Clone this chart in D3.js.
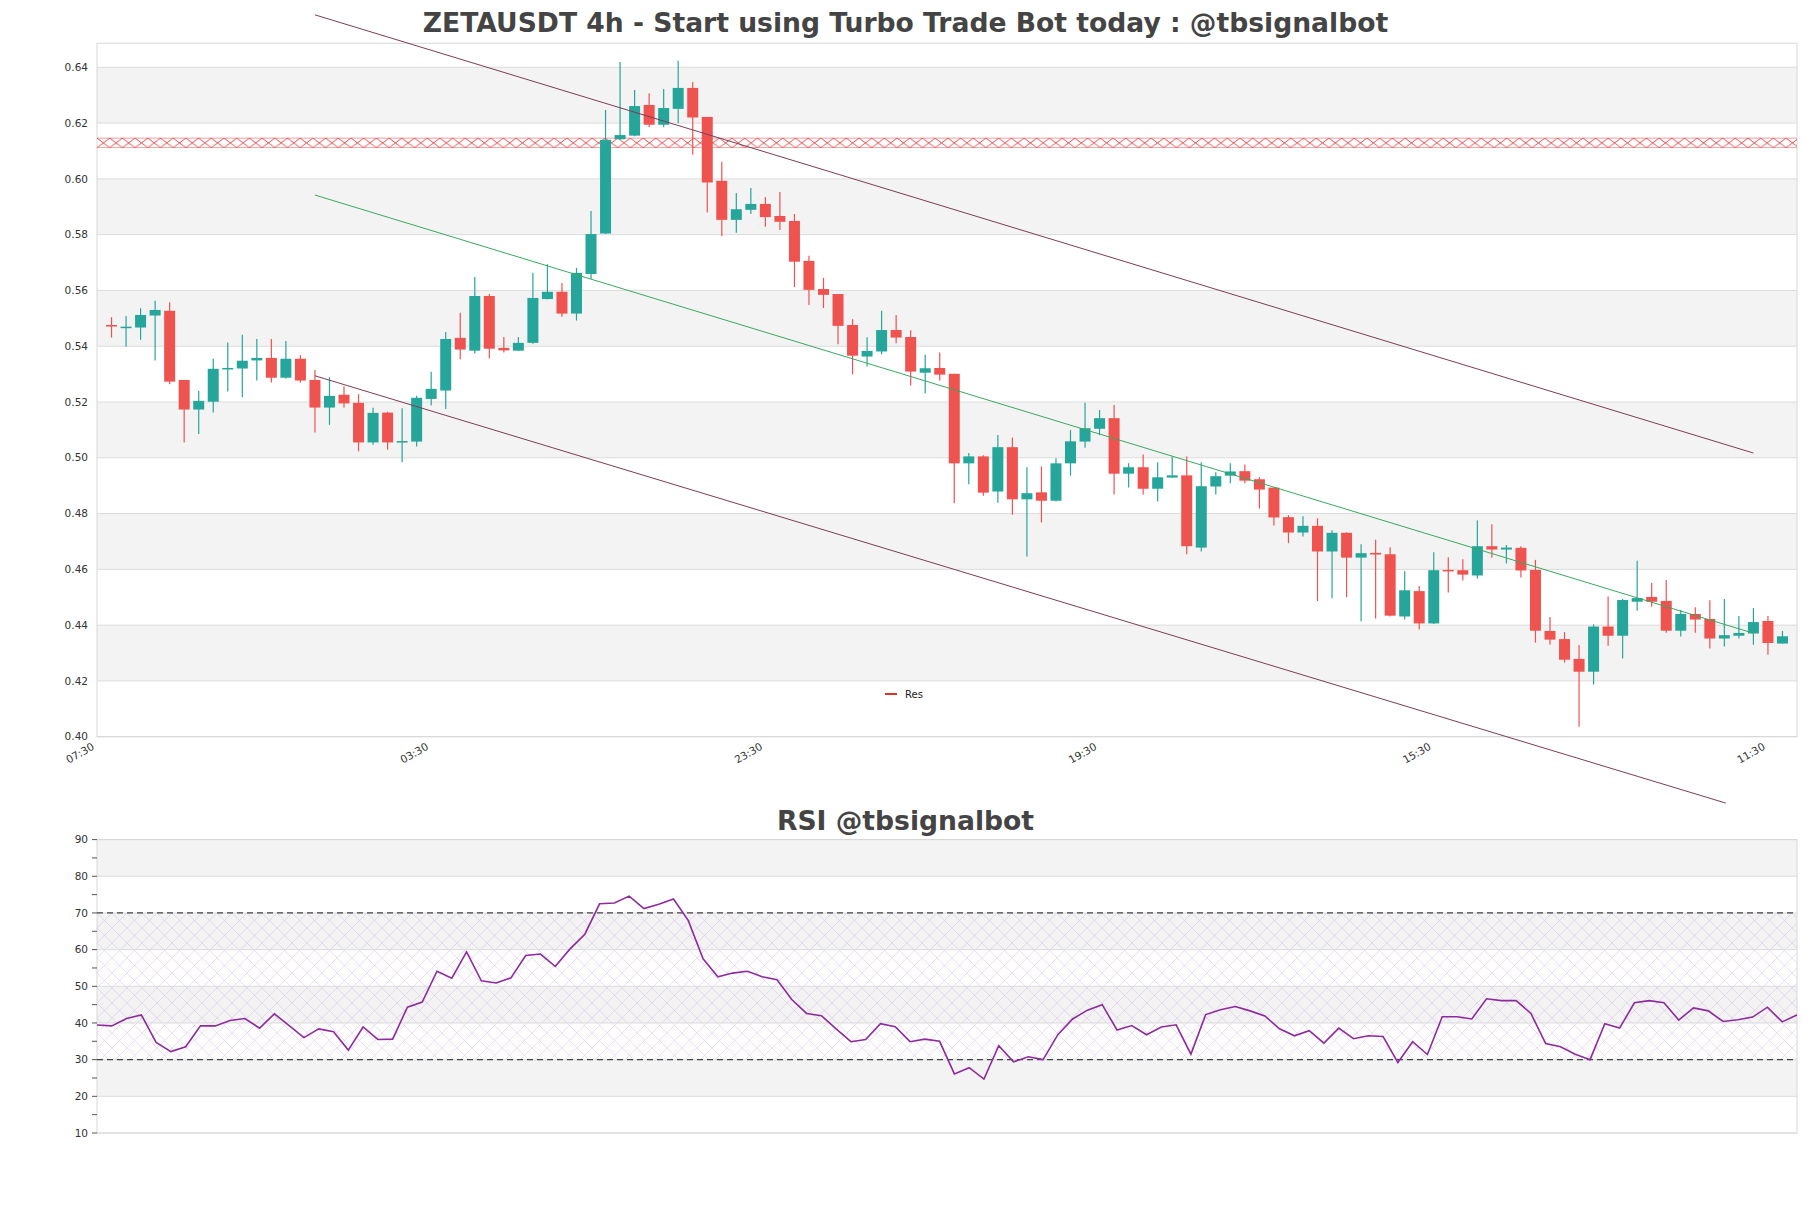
<!DOCTYPE html>
<html><head><meta charset="utf-8">
<script src="https://cdn.jsdelivr.net/npm/d3@7"></script>
<style>body{margin:0;background:#fff}svg{display:block}text{font-family:"DejaVu Sans",sans-serif}</style>
</head><body><svg id="c" width="1811" height="1208"></svg>
<script>
const opens=[0.5476,0.5466,0.5467,0.5510,0.5527,0.5279,0.5173,0.5201,0.5317,0.5320,0.5349,0.5358,0.5287,0.5355,0.5279,0.5180,0.5226,0.5197,0.5055,0.5162,
0.5055,0.5058,0.5211,0.5241,0.5430,0.5384,0.5580,0.5394,0.5384,0.5412,0.5569,0.5595,0.5517,0.5659,0.5804,0.6142,0.6155,0.6265,0.6194,0.6251,
0.6326,0.6222,0.5993,0.5853,0.5889,0.5910,0.5867,0.5849,0.5706,0.5605,0.5587,0.5476,0.5363,0.5381,0.5458,0.5433,0.5305,0.5322,0.5301,0.4980,
0.5005,0.4879,0.5038,0.4851,0.4876,0.4846,0.4980,0.5058,0.5104,0.5142,0.4943,0.4966,0.4889,0.4929,0.4937,0.4678,0.4897,0.4936,0.4952,0.4923,
0.4893,0.4787,0.4732,0.4756,0.4664,0.4731,0.4642,0.4659,0.4654,0.4431,0.4522,0.4406,0.4598,0.4597,0.4578,0.4683,0.4671,0.4677,0.4598,0.4379,
0.4350,0.4279,0.4233,0.4395,0.4362,0.4484,0.4501,0.4487,0.4380,0.4440,0.4422,0.4352,0.4362,0.4370,0.4415,0.4334];
const highs=[0.5504,0.5508,0.5536,0.5563,0.5558,0.5279,0.5240,0.5355,0.5413,0.5441,0.5426,0.5426,0.5419,0.5368,0.5315,0.5289,0.5256,0.5228,0.5179,0.5165,
0.5178,0.5222,0.5308,0.5451,0.5520,0.5648,0.5587,0.5433,0.5433,0.5663,0.5694,0.5627,0.5681,0.5885,0.6247,0.6419,0.6319,0.6307,0.6322,0.6423,
0.6347,0.6222,0.6061,0.5949,0.5967,0.5935,0.5953,0.5874,0.5724,0.5645,0.5587,0.5497,0.5432,0.5527,0.5512,0.5457,0.5369,0.5377,0.5301,0.5017,
0.5009,0.5082,0.5073,0.4966,0.4969,0.4998,0.5099,0.5197,0.5171,0.5189,0.4980,0.5012,0.4984,0.5005,0.5005,0.4984,0.4948,0.4980,0.4976,0.4930,
0.4893,0.4794,0.4790,0.4783,0.4740,0.4733,0.4690,0.4706,0.4679,0.4593,0.4540,0.4661,0.4643,0.4636,0.4775,0.4762,0.4687,0.4683,0.4634,0.4429,
0.4375,0.4329,0.4403,0.4503,0.4494,0.4631,0.4551,0.4562,0.4454,0.4464,0.4489,0.4494,0.4433,0.4461,0.4433,0.4379];
const lows=[0.5431,0.5398,0.5423,0.5349,0.5264,0.5055,0.5085,0.5162,0.5238,0.5217,0.5277,0.5270,0.5283,0.5270,0.5091,0.5118,0.5180,0.5023,0.5047,0.5029,
0.4984,0.5040,0.5187,0.5175,0.5353,0.5374,0.5356,0.5377,0.5383,0.5409,0.5568,0.5506,0.5492,0.5641,0.5802,0.6140,0.6153,0.6185,0.6185,0.6199,
0.6086,0.5879,0.5795,0.5807,0.5874,0.5828,0.5817,0.5612,0.5548,0.5537,0.5407,0.5299,0.5327,0.5371,0.5411,0.5259,0.5231,0.5277,0.4837,0.4905,
0.4864,0.4839,0.4796,0.4646,0.4768,0.4843,0.4936,0.5036,0.5081,0.4868,0.4893,0.4868,0.4843,0.4928,0.4654,0.4664,0.4868,0.4909,0.4909,0.4818,
0.4757,0.4694,0.4718,0.4486,0.4496,0.4500,0.4414,0.4424,0.4431,0.4420,0.4384,0.4404,0.4517,0.4560,0.4567,0.4642,0.4621,0.4571,0.4337,0.4330,
0.4266,0.4036,0.4187,0.4326,0.4280,0.4452,0.4466,0.4373,0.4359,0.4373,0.4316,0.4323,0.4352,0.4330,0.4294,0.4334];
const closes=[0.5472,0.5470,0.5512,0.5530,0.5273,0.5173,0.5204,0.5319,0.5322,0.5348,0.5358,0.5287,0.5355,0.5277,0.5180,0.5222,0.5195,0.5055,0.5161,0.5055,
0.5060,0.5215,0.5247,0.5426,0.5388,0.5580,0.5391,0.5385,0.5412,0.5573,0.5595,0.5517,0.5663,0.5802,0.6140,0.6157,0.6261,0.6194,0.6254,0.6326,
0.6220,0.5987,0.5853,0.5891,0.5910,0.5863,0.5846,0.5703,0.5602,0.5584,0.5473,0.5366,0.5383,0.5458,0.5431,0.5309,0.5321,0.5298,0.4980,0.5005,
0.4875,0.5038,0.4851,0.4873,0.4846,0.4980,0.5059,0.5106,0.5142,0.4943,0.4966,0.4889,0.4930,0.4937,0.4683,0.4898,0.4934,0.4951,0.4918,0.4886,
0.4786,0.4732,0.4756,0.4664,0.4731,0.4642,0.4658,0.4653,0.4434,0.4525,0.4406,0.4597,0.4595,0.4581,0.4683,0.4671,0.4678,0.4596,0.4380,0.4348,
0.4276,0.4233,0.4395,0.4362,0.4490,0.4497,0.4484,0.4380,0.4440,0.4420,0.4352,0.4364,0.4372,0.4411,0.4336,0.4360];
const rsi=[39.45,39.2,41.2,42.2,34.7,32.2,33.5,39.2,39.2,40.7,
41.2,38.6,42.5,39.3,36.0,38.4,37.6,32.6,38.9,35.5,
35.6,44.3,45.7,54.1,52.2,59.4,51.5,50.9,52.3,58.4,
58.8,55.4,60.2,64.2,72.5,72.7,74.6,71.2,72.4,73.8,
67.9,57.5,52.6,53.6,54.1,52.6,51.8,46.4,42.6,42.0,
38.4,34.9,35.5,39.8,39.0,34.9,35.6,35.0,26.1,27.8,
24.7,33.8,29.4,30.8,30.0,36.8,41.1,43.5,45.0,38.1,
39.3,36.8,38.9,39.5,31.5,42.3,43.6,44.5,43.3,41.9,
38.4,36.5,37.9,34.5,38.6,35.7,36.5,36.3,29.2,34.9,
31.4,41.7,41.7,41.1,46.6,46.1,46.1,42.6,34.4,33.5,
31.5,30.0,39.8,38.6,45.5,46.1,45.5,40.8,44.1,43.3,
40.4,40.9,41.6,44.3,40.3,42.2];
const xTickIdx=[-1,22,45,68,91,114];
const xTickLabels=["07:30","03:30","23:30","19:30","15:30","11:30"];
const priceTicks=[0.40,0.42,0.44,0.46,0.48,0.50,0.52,0.54,0.56,0.58,0.60,0.62,0.64];
const priceBands=[[0.42,0.44],[0.46,0.48],[0.50,0.52],[0.54,0.56],[0.58,0.60],[0.62,0.64]];
const rsiTicks=[10,20,30,40,50,60,70,80,90];
const rsiMinorTicks=[10,15,20,25,30,35,40,45,50,55,60,65,70,75,80,85,90];
const rsiBands=[[20,30],[40,50],[60,70],[80,90]];
const rsiLevels=[30,70];
const resZone=[0.6112,0.6146];
const upperLine=[[14,0.6588],[113,0.5017]];
const lowerLine=[[14,0.5294],[111.1,0.3762]];
const midLine=[[14,0.5942],[113,0.4371]];
const title="ZETAUSDT 4h - Start using Turbo Trade Bot today : @tbsignalbot";
const rsiTitle="RSI @tbsignalbot";

const svg=d3.select("#c");
const L=97,R=1797,T=43.3,B=736.7;
const RT=839.6,RB=1133;
const x=d3.scaleLinear().domain([-1,116]).range([L,R]);
const y=d3.scaleLinear().domain([0.40,0.6486]).range([B,T]);
const xr=d3.scaleLinear().domain([0,115]).range([L,R]);
const yr=d3.scaleLinear().domain([10,90]).range([RB,RT]);

const defs=svg.append("defs");
const resH=y(resZone[0])-y(resZone[1]);
const pat=defs.append("pattern").attr("id","resHatch").attr("patternUnits","userSpaceOnUse")
 .attr("width",12.7).attr("height",resH).attr("y",y(resZone[1])).attr("x",L);
pat.append("path").attr("d",`M0,0L12.7,${resH}M0,${resH}L12.7,0`).attr("stroke","#e23b3b").attr("stroke-width",0.9).attr("fill","none");
const pat2=defs.append("pattern").attr("id","rsiHatch").attr("patternUnits","userSpaceOnUse")
 .attr("width",15).attr("height",15).attr("x",L).attr("y",yr(70));
pat2.append("path").attr("d","M0,0L15,15M0,15L15,0").attr("stroke","#c6a6dc").attr("stroke-width",0.6).attr("fill","none").attr("opacity",0.6);

svg.append("rect").attr("width",1811).attr("height",1208).attr("fill","#fff");

// main panel
const g=svg.append("g");
g.selectAll("rect.band").data(priceBands).join("rect").attr("x",L).attr("width",R-L)
 .attr("y",d=>y(d[1])).attr("height",d=>y(d[0])-y(d[1])).attr("fill","#f3f3f3");
g.selectAll("line.grid").data(priceTicks).join("line").attr("x1",L).attr("x2",R)
 .attr("y1",d=>y(d)).attr("y2",d=>y(d)).attr("stroke","#dcdcdc").attr("stroke-width",1);
g.append("rect").attr("x",L).attr("y",T).attr("width",R-L).attr("height",B-T).attr("fill","none").attr("stroke","#d8d8d8");
g.selectAll("text.yt").data(priceTicks).join("text").attr("x",L-9).attr("y",d=>y(d)).attr("dy","0.35em")
 .attr("text-anchor","end").attr("font-size",10.5).attr("fill","#333").text(d=>d.toFixed(2));
g.selectAll("text.xt").data(xTickIdx).join("text")
 .attr("transform",(d,i)=>`translate(${x(d)-2},${B+12}) rotate(-30)`).attr("text-anchor","end")
 .attr("font-size",10.5).attr("fill","#333").text((d,i)=>xTickLabels[i]);

// resistance zone
g.append("rect").attr("x",L).attr("width",R-L).attr("y",y(resZone[1])).attr("height",resH)
 .attr("fill","url(#resHatch)");
g.selectAll("line.resEdge").data(resZone).join("line").attr("x1",L).attr("x2",R)
 .attr("y1",d=>y(d)).attr("y2",d=>y(d)).attr("stroke","#e23b3b").attr("stroke-width",0.6).attr("opacity",0.8);

// candles
const idx=d3.range(opens.length);
const bw=11;
const cg=g.append("g");
cg.selectAll("line.w").data(idx).join("line").attr("x1",i=>x(i)).attr("x2",i=>x(i))
 .attr("y1",i=>y(highs[i])).attr("y2",i=>y(lows[i]))
 .attr("stroke",i=>closes[i]>=opens[i]?"#26a69a":"#ef5350").attr("stroke-width",1.2);
cg.selectAll("rect.b").data(idx).join("rect").attr("x",i=>x(i)-bw/2).attr("width",bw)
 .attr("y",i=>y(Math.max(opens[i],closes[i])))
 .attr("height",i=>Math.max(1.5,Math.abs(y(opens[i])-y(closes[i]))))
 .attr("fill",i=>closes[i]>=opens[i]?"#26a69a":"#ef5350");

// trend lines
const ln=d3.line().x(d=>x(d[0])).y(d=>y(d[1]));
g.append("path").attr("d",ln(upperLine)).attr("stroke","#7e3c58").attr("stroke-width",1).attr("fill","none");
g.append("path").attr("d",ln(lowerLine)).attr("stroke","#7e3c58").attr("stroke-width",1).attr("fill","none");
g.append("path").attr("d",ln(midLine)).attr("stroke","#3aa860").attr("stroke-width",1).attr("fill","none");

// legend
g.append("line").attr("x1",885).attr("x2",897).attr("y1",694).attr("y2",694).attr("stroke","#e03030").attr("stroke-width",2);
g.append("text").attr("x",905).attr("y",694).attr("dy","0.35em").attr("font-size",10).attr("fill","#222").text("Res");

svg.append("text").attr("x",905.5).attr("y",32).attr("text-anchor","middle").attr("font-weight","bold")
 .attr("font-size",26.6).attr("fill","#444").text(title);

// RSI panel
const r=svg.append("g");
r.selectAll("rect.band").data(rsiBands).join("rect").attr("x",L).attr("width",R-L)
 .attr("y",d=>yr(d[1])).attr("height",d=>yr(d[0])-yr(d[1])).attr("fill","#f3f3f3");
r.append("rect").attr("x",L).attr("width",R-L).attr("y",yr(70)).attr("height",yr(30)-yr(70)).attr("fill","url(#rsiHatch)");
r.selectAll("line.grid").data(rsiTicks).join("line").attr("x1",L).attr("x2",R)
 .attr("y1",d=>yr(d)).attr("y2",d=>yr(d)).attr("stroke","#dcdcdc");
r.append("rect").attr("x",L).attr("y",RT).attr("width",R-L).attr("height",RB-RT).attr("fill","none").attr("stroke","#d8d8d8");
r.selectAll("line.tk").data(rsiMinorTicks).join("line").attr("x1",L-5).attr("x2",L)
 .attr("y1",d=>yr(d)).attr("y2",d=>yr(d)).attr("stroke","#555");
r.selectAll("text.yt").data(rsiTicks).join("text").attr("x",L-9).attr("y",d=>yr(d)).attr("dy","0.35em")
 .attr("text-anchor","end").attr("font-size",10.5).attr("fill","#333").text(d=>d);
r.selectAll("line.lvl").data(rsiLevels).join("line").attr("x1",L).attr("x2",R)
 .attr("y1",d=>yr(d)).attr("y2",d=>yr(d)).attr("stroke","#444").attr("stroke-width",1.2).attr("stroke-dasharray","6,4");
r.append("path").attr("d",d3.line().x((d,i)=>xr(i)).y(d=>yr(d))(rsi)).attr("stroke","#8e2a9e").attr("stroke-width",1.6).attr("fill","none");
svg.append("text").attr("x",905.5).attr("y",830).attr("text-anchor","middle").attr("font-weight","bold")
 .attr("font-size",26.6).attr("fill","#444").text(rsiTitle);
</script></body></html>
